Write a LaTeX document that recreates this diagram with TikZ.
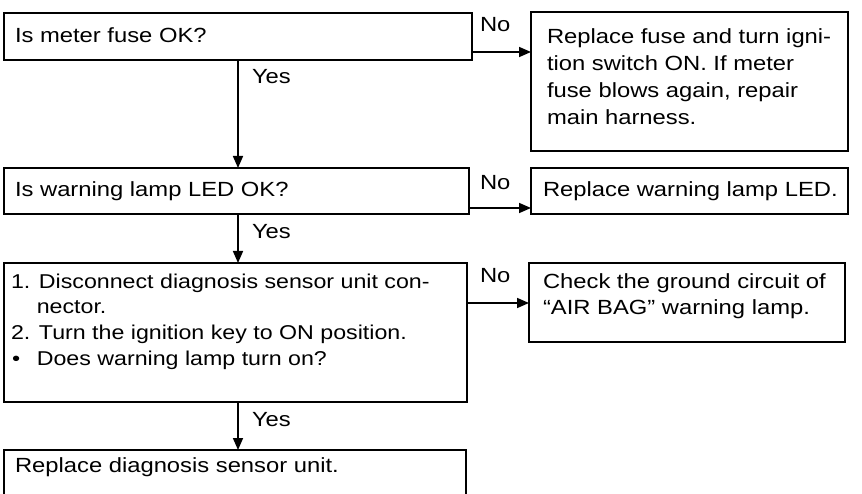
\documentclass[tikz,border=0pt]{standalone}
\usepackage{fontspec}
\setmainfont{Liberation Sans}[FakeStretch=1.16]
\usetikzlibrary{arrows.meta}
\newcommand\myfirststrut{\rule{0pt}{16pt}}
\begin{document}
\begin{tikzpicture}[x=1pt,y=-1pt,
  box/.style={draw, line width=1.6pt, anchor=north west, inner sep=0pt, outer sep=0pt},
  txt/.style={inner sep=0pt, outer sep=0pt, anchor=north west, align=left, font=\fontsize{20.5}{26.5}\selectfont},
  lbl/.style={inner sep=0pt, outer sep=0pt, anchor=base west, font=\fontsize{20.5}{24}\selectfont},
  arr/.style={line width=1.6pt, -{Triangle[length=12pt,width=10pt]}}]
\useasboundingbox (0,0) rectangle (862,494);
% boxes
\node[box, minimum width=468pt, minimum height=47pt] (b1) at (4,13) {};
\node[box, minimum width=317pt, minimum height=139pt] (r1) at (531,12) {};
\node[box, minimum width=465pt, minimum height=46pt] (b2) at (4,168) {};
\node[box, minimum width=317pt, minimum height=46pt] (r2) at (531,168) {};
\node[box, minimum width=463pt, minimum height=139pt] (b3) at (4,263) {};
\node[box, minimum width=316pt, minimum height=79pt] (r3) at (529,263) {};
\node[box, minimum width=462pt, minimum height=70pt] (b4) at (4,450) {};
% texts
\node[txt] (t1) at (15,27) {\myfirststrut Is meter fuse OK?};
\node[txt, font=\fontsize{20.5}{27}\selectfont] (tr1) at (547,28) {\myfirststrut Replace fuse and turn igni-\\tion switch ON. If meter\\fuse blows again, repair\\main harness.};
\node[txt] (t2) at (15,181) {\myfirststrut Is warning lamp LED OK?};
\node[txt] (tr2) at (543,181) {\myfirststrut Replace warning lamp LED.};
\node[txt, font=\fontsize{20}{25.7}\selectfont] (t3) at (11,272) {\myfirststrut 1. Disconnect diagnosis sensor unit con-\\\phantom{1.\ }nector.\\2. Turn the ignition key to ON position.\\\makebox[0pt][l]{\kern1pt\textbullet}\phantom{1.\ }Does warning lamp turn on?};
\node[txt, font=\fontsize{20.5}{26}\selectfont] (tr3) at (543,273) {\myfirststrut Check the ground circuit of\\“AIR BAG” warning lamp.};
\node[txt] (t4) at (15,456) {\myfirststrut Replace diagnosis sensor unit.};
% labels
\node[lbl] (y1) at (252,84) {Yes};
\node[lbl] (y2) at (252,239) {Yes};
\node[lbl] (y3) at (252,426) {Yes};
\node[lbl] (n1) at (480,32) {No};
\node[lbl] (n2) at (480,190) {No};
\node[lbl] (n3) at (480,283) {No};
% connectors
\draw[arr] (b1.south) -- (b1.south |- b2.north);
\draw[arr] (b1.south |- b2.south) -- (b1.south |- b3.north);
\draw[arr] (b1.south |- b3.south) -- (b1.south |- b4.north);
\draw[arr] ([yshift=8pt]b1.south east) -- ([yshift=8pt]b1.south east -| r1.west);
\draw[arr] ([yshift=6pt]b2.south east) -- ([yshift=6pt]b2.south east -| r2.west);
\draw[arr] ([yshift=-40pt]b3.north east) -- ([yshift=-40pt]b3.north east -| r3.west);
\end{tikzpicture}
\end{document}
